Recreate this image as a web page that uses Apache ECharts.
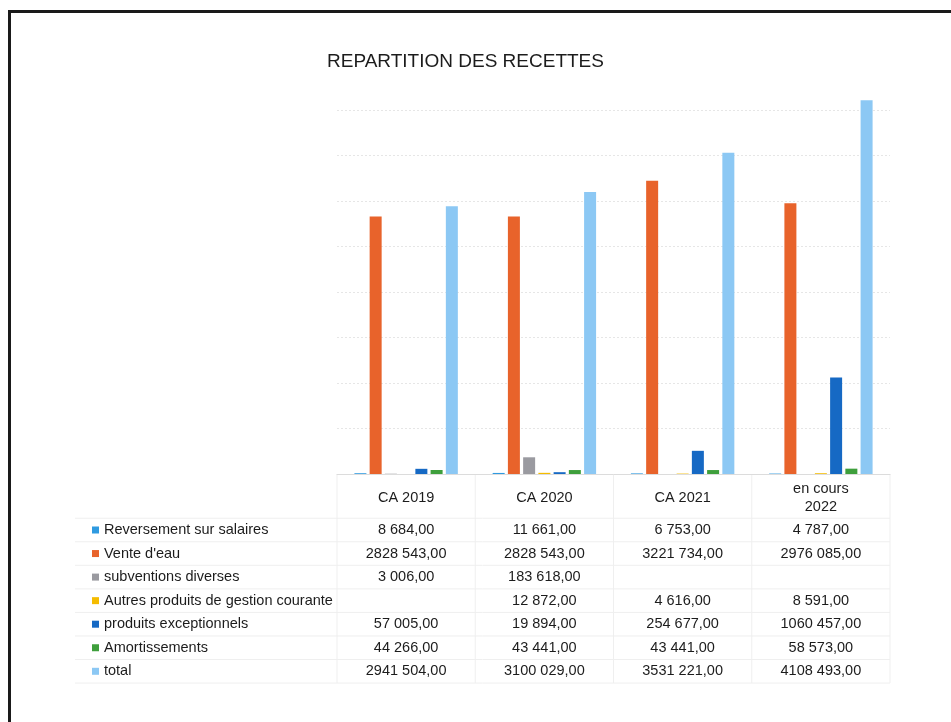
<!DOCTYPE html>
<html>
<head>
<meta charset="utf-8">
<script src="https://cdn.jsdelivr.net/npm/echarts@6/dist/echarts.min.js"></script>
<style>
html,body{margin:0;padding:0;background:#fff;}
#main{width:951px;height:722px;}
</style>
</head>
<body>
<div id="main"></div>
<script>
// ---- data ----
const categories = ['CA 2019', 'CA 2020', 'CA 2021', 'en cours\n2022'];
const seriesNames = ['Reversement sur salaires', "Vente d'eau", 'subventions diverses',
  'Autres produits de gestion courante', 'produits exceptionnels', 'Amortissements', 'total'];
const reversement = [8684, 11661, 6753, 4787];
const venteEau = [2828543, 2828543, 3221734, 2976085];
const subventions = [3006, 183618, null, null];
const autresProduits = [null, 12872, 4616, 8591];
const produitsExceptionnels = [57005, 19894, 254677, 1060457];
const amortissements = [44266, 43441, 43441, 58573];
const total = [2941504, 3100029, 3531221, 4108493];
const seriesValues = [reversement, venteEau, subventions, autresProduits, produitsExceptionnels, amortissements, total];
const colors = ['#2f9ae0', '#e8632b', '#9a9aa0', '#f5bc00', '#1669c4', '#3e9f3c', '#8cc8f4'];

function fmt(v) {
  if (v === null || v === undefined) return '';
  const n = Math.round(v);
  const s = n >= 1000 ? Math.floor(n / 1000) + ' ' + String(n % 1000).padStart(3, '0') : String(n);
  return s + ',00';
}

const chart = echarts.init(document.getElementById('main'));
const FONT = 'Liberation Sans';
const TXT = '#1c1c1c';
const FS = 14.5;

chart.setOption({
  animation: false,
  title: {
    text: 'REPARTITION DES RECETTES',
    left: 322, top: 47,
    textStyle: { fontFamily: FONT, fontSize: 19, fontWeight: 'normal', color: TXT }
  },
  grid: { left: 337, right: 61, top: 64.5, bottom: 248 },
  xAxis: {
    type: 'category', data: categories,
    axisLine: { show: true, lineStyle: { color: '#dcdcdc' } },
    axisTick: { show: false }, axisLabel: { show: false }
  },
  yAxis: {
    type: 'value', min: 0, max: 4500000, interval: 500000,
    axisLabel: { show: false }, axisLine: { show: false }, axisTick: { show: false },
    splitLine: { show: true, showMaxLine: false, lineStyle: { color: '#e6e6e6', type: [2, 2] } }
  },
  series: seriesValues.map((vals, i) => ({
    name: seriesNames[i], type: 'bar', data: vals,
    barWidth: 12, barGap: '27%',
    itemStyle: { color: colors[i] }
  }))
});

// ---- data table drawn below the plot ----
const graphics = [];
// outer scanned-frame border
graphics.push({ type: 'rect', shape: { x: 9.5, y: 11.5, width: 980, height: 760 },
  style: { fill: 'none', stroke: '#1a1a1a', lineWidth: 3 }, silent: true });

const colX = categories.map((c, i) => chart.convertToPixel({ xAxisIndex: 0 }, i));
const gridLeft = 337, gridRight = 890, axisY = 474;
const headerY = 498, rowY0 = 530, rowStep = 23.55;
const colEdges = [gridLeft];
for (let i = 0; i < categories.length; i++) colEdges.push(gridLeft + (gridRight - gridLeft) * (i + 1) / categories.length);

// vertical lines
colEdges.forEach(x => graphics.push({ type: 'line', shape: { x1: x, y1: axisY, x2: x, y2: 683 },
  style: { stroke: '#efefef', lineWidth: 1 }, silent: true }));
// horizontal lines
for (let r = 0; r <= seriesNames.length; r++) {
  const y = rowY0 - rowStep / 2 + r * rowStep;
  graphics.push({ type: 'line', shape: { x1: 75, y1: y, x2: gridRight, y2: y },
    style: { stroke: '#efefef', lineWidth: 1 }, silent: true });
}
// header
categories.forEach((c, i) => {
  graphics.push({ type: 'text', x: colX[i], y: headerY,
    style: { text: c, fontFamily: FONT, fontSize: FS, fill: TXT, align: 'center', verticalAlign: 'middle', lineHeight: 18 } });
});
// rows
seriesNames.forEach((name, r) => {
  const y = rowY0 + r * rowStep;
  graphics.push({ type: 'rect', shape: { x: 92, y: y - 3.5, width: 7, height: 7 }, style: { fill: colors[r] } });
  graphics.push({ type: 'text', x: 104, y: y,
    style: { text: name, fontFamily: FONT, fontSize: FS, fill: TXT, align: 'left', verticalAlign: 'middle' } });
  seriesValues[r].forEach((v, i) => {
    graphics.push({ type: 'text', x: colX[i], y: y,
      style: { text: fmt(v), fontFamily: FONT, fontSize: FS, fill: TXT, align: 'center', verticalAlign: 'middle' } });
  });
});

chart.setOption({ graphic: graphics });
</script>
</body>
</html>
